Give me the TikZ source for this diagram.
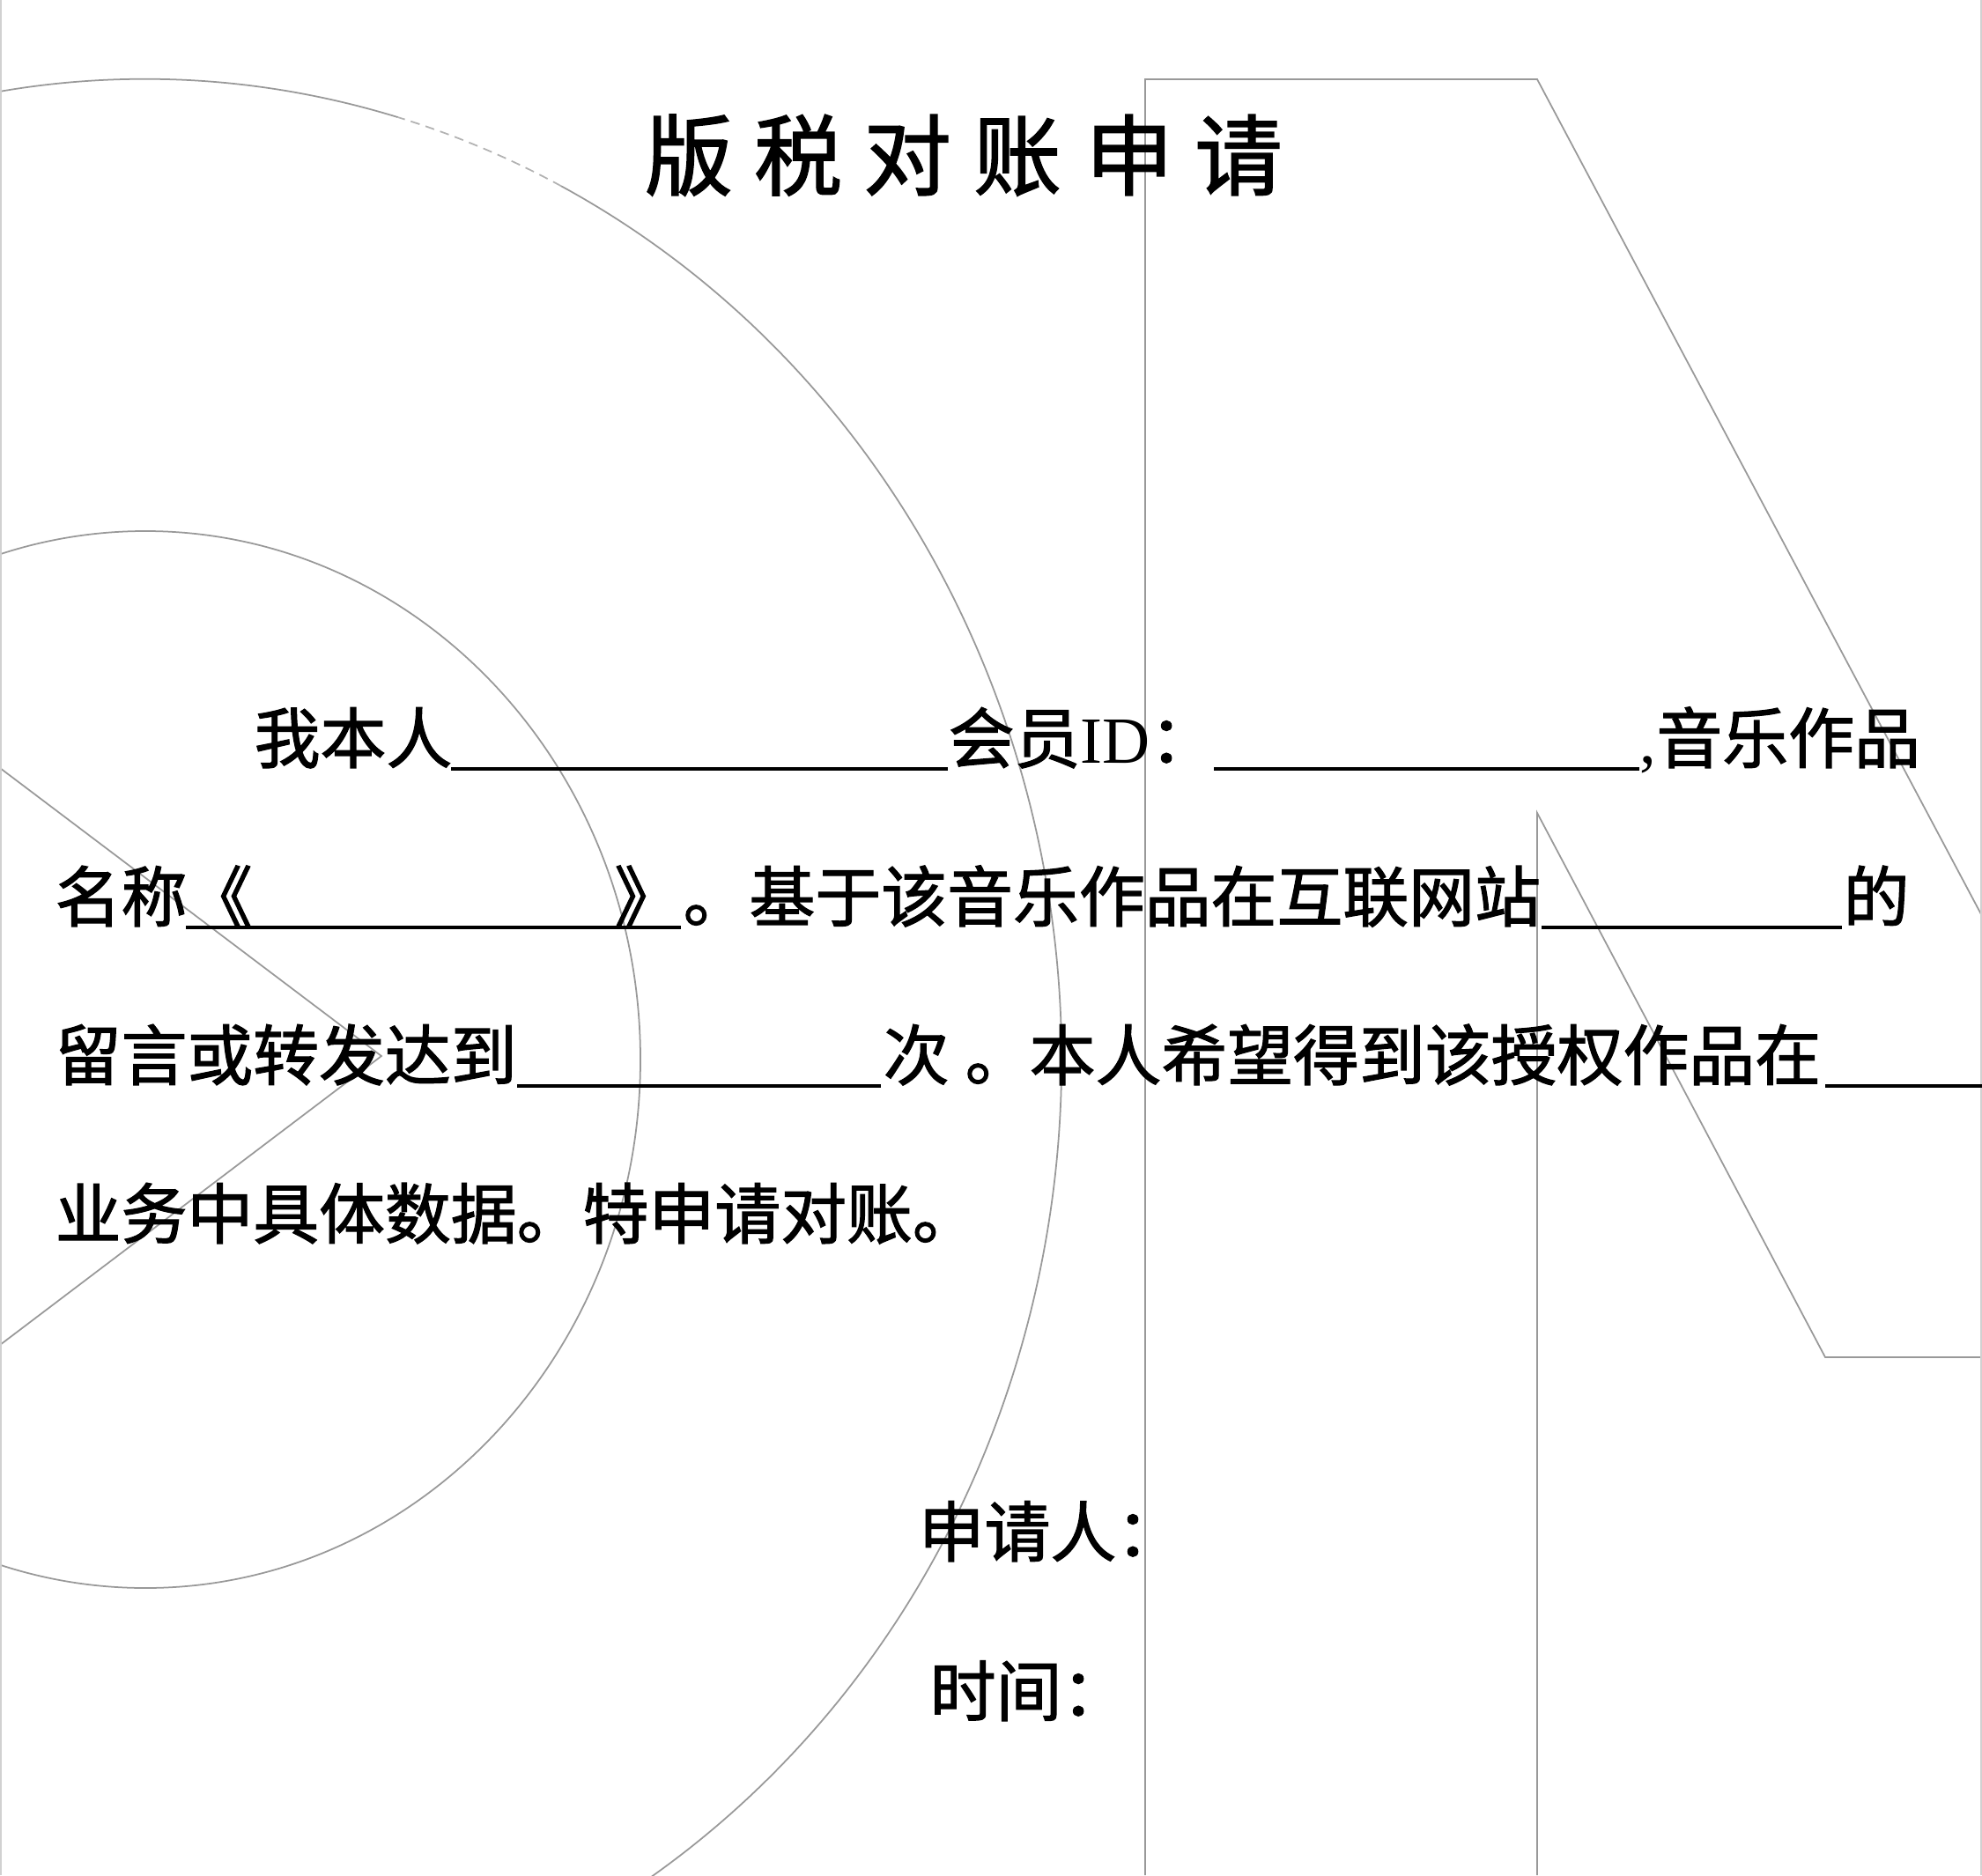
\documentclass[tikz,border=0pt]{standalone}
\usepackage{fontspec}
\setmainfont{Noto Sans CJK SC}[FakeBold=1.6]
\newfontfamily\latinfont{Liberation Serif}
\usepackage{tikz}

\begin{document}
\begin{tikzpicture}[
  bodytext/.style={anchor=base west,inner sep=0pt,font=\fontsize{21.3pt}{21.3pt}\selectfont},
  titletext/.style={anchor=base,inner sep=0pt,font=\fontsize{28.4pt}{28.4pt}\selectfont},
  bgline/.style={draw=black!40,line width=0.5pt},
  edgeline/.style={draw=black!18,line width=0.6pt},
  blank/.style={line width=1.1pt}]
\useasboundingbox (0,0) rectangle (22.5,21.29);

\begin{scope}
\clip (0,0) rectangle (22.5,21.29);
\draw[bgline] (1.65,9.26) ellipse[x radius=5.62,y radius=6];
\draw[bgline] (1.65,9.26) ++(74:10.4 and 11.13) arc[start angle=74,end angle=423,x radius=10.4,y radius=11.13];
\draw[bgline,draw=black!30,dash pattern=on 3pt off 2pt] (1.65,9.26) ++(63:10.4 and 11.13) arc[start angle=63,end angle=74,x radius=10.4,y radius=11.13];
\draw[bgline] (0,12.57) -- (4.33,9.30) -- (0,6.02);
\draw[bgline] (13,0) -- (13,20.39) -- (17.45,20.39) -- (22.5,10.89);
\draw[bgline] (17.45,0) -- (17.45,12.06) -- (20.72,5.88) -- (22.5,5.88);
\draw[edgeline] (0.01,0) -- (0.01,21.29);
\draw[edgeline] (22.49,0) -- (22.49,21.29);
\end{scope}

\node[titletext] (t1) at (7.82,19.15) {版};
\node[titletext] (t2) at (9.06,19.15) {税};
\node[titletext] (t3) at (10.30,19.15) {对};
\node[titletext] (t4) at (11.55,19.15) {账};
\node[titletext] (t5) at (12.82,19.15) {申};
\node[titletext] (t6) at (14.06,19.15) {请};

\node[bodytext] (me) at (2.88,12.63) {我本人};
\node[bodytext] (member) at (10.76,12.63) {会员{\latinfont ID}：};
\node[bodytext] (work) at (18.61,12.63) {{\latinfont ,}音乐作品};
\coordinate (ul1a) at (5.12,12.56);
\coordinate (ul1b) at (10.76,12.56);
\coordinate (ul2a) at (13.78,12.56);
\coordinate (ul2b) at (18.61,12.56);
\draw[blank] (ul1a) -- (ul1b);
\draw[blank] (ul2a) -- (ul2b);

\node[bodytext] (name) at (0.62,10.83) {名称};
\node[bodytext] (lq) at (2.11,10.83) {《};
\node[bodytext,anchor=base east] (rq) at (7.73,10.83) {》};
\node[bodytext] (site) at (7.75,10.83) {。基于该音乐作品在互联网站};
\node[bodytext] (of) at (20.92,10.83) {的};
\coordinate (ul3a) at (2.11,10.76);
\coordinate (ul3b) at (7.73,10.76);
\coordinate (ul4a) at (17.50,10.76);
\coordinate (ul4b) at (20.91,10.76);
\draw[blank] (ul3a) -- (ul3b);
\draw[blank] (ul4a) -- (ul4b);

\node[bodytext] (reach) at (0.62,9.03) {留言或转发达到};
\node[bodytext] (times) at (10.02,9.03) {次};
\node[bodytext] (stop) at (10.95,9.03) {。};
\node[bodytext] (hope) at (11.68,9.03) {本人希望得到该授权作品在};
\coordinate (ul5a) at (5.87,8.96);
\coordinate (ul5b) at (10.00,8.96);
\coordinate (ul6a) at (20.72,8.96);
\coordinate (ul6b) at (22.5,8.96);
\draw[blank] (ul5a) -- (ul5b);
\draw[blank] (ul6a) -- (ul6b);

\node[bodytext] (data) at (0.62,7.23) {业务中具体数据。特申请对账。};

\node[bodytext] (applicant) at (10.42,3.62) {申请人：};
\node[bodytext] (date) at (10.55,1.81) {时间：};
\end{tikzpicture}
\end{document}
